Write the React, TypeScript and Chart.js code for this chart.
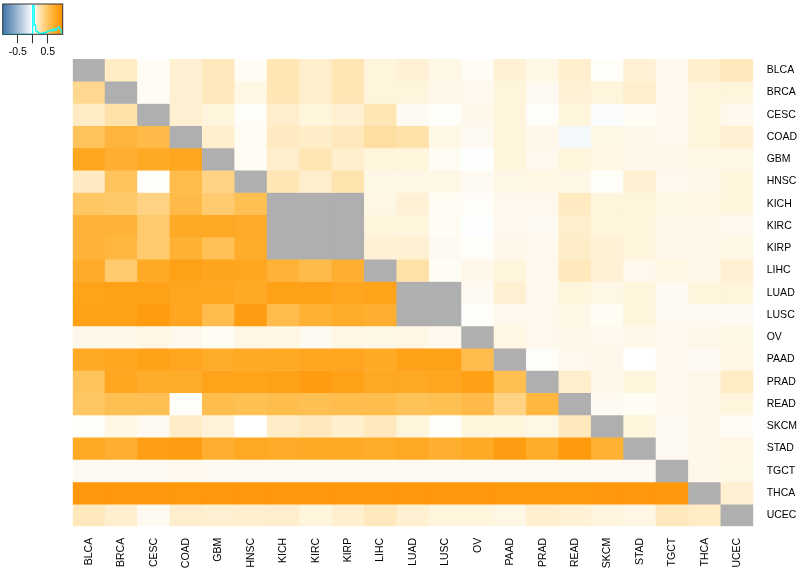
import React, { useEffect, useRef } from 'react';
import { Chart, registerables } from 'chart.js';

Chart.register(...registerables);

const N = null;

const rowLabels = ['BLCA', 'BRCA', 'CESC', 'COAD', 'GBM', 'HNSC', 'KICH', 'KIRC', 'KIRP', 'LIHC', 'LUAD', 'LUSC', 'OV', 'PAAD', 'PRAD', 'READ', 'SKCM', 'STAD', 'TGCT', 'THCA', 'UCEC'];
const colLabels = ['BLCA', 'BRCA', 'CESC', 'COAD', 'GBM', 'HNSC', 'KICH', 'KIRC', 'KIRP', 'LIHC', 'LUAD', 'LUSC', 'OV', 'PAAD', 'PRAD', 'READ', 'SKCM', 'STAD', 'TGCT', 'THCA', 'UCEC'];

const rowBLCA = [N, 0.17, 0.03, 0.13, 0.20, 0.03, 0.22, 0.15, 0.22, 0.10, 0.12, 0.07, 0.03, 0.12, 0.07, 0.14, 0.02, 0.12, 0.05, 0.14, 0.20];
const rowBRCA = [0.34, N, 0.03, 0.13, 0.20, 0.08, 0.22, 0.15, 0.22, 0.10, 0.10, 0.06, 0.05, 0.10, 0.04, 0.12, 0.10, 0.15, 0.05, 0.10, 0.10];
const rowCESC = [0.17, 0.25, N, 0.13, 0.10, 0.02, 0.15, 0.10, 0.13, 0.22, 0.04, 0.02, 0.06, 0.10, 0.02, 0.10, -0.03, 0.03, 0.05, 0.10, 0.05];
const rowCOAD = [0.52, 0.64, 0.60, N, 0.15, 0.03, 0.18, 0.16, 0.20, 0.28, 0.25, 0.07, 0.04, 0.10, 0.06, -0.05, 0.07, 0.06, 0.05, 0.10, 0.13];
const rowGBM = [0.77, 0.70, 0.75, 0.78, N, 0.03, 0.15, 0.22, 0.14, 0.10, 0.10, 0.03, -0.01, 0.10, 0.05, 0.10, 0.08, 0.06, 0.06, 0.07, 0.07];
const rowHNSC = [0.18, 0.52, 0.02, 0.58, 0.38, N, 0.22, 0.15, 0.24, 0.07, 0.07, 0.07, 0.04, 0.07, 0.08, 0.07, 0.02, 0.13, 0.05, 0.06, 0.10];
const rowKICH = [0.50, 0.47, 0.38, 0.60, 0.45, 0.55, N, N, N, 0.08, 0.12, 0.03, 0.02, 0.05, 0.05, 0.18, 0.10, 0.10, 0.07, 0.08, 0.10];
const rowKIRC = [0.66, 0.66, 0.46, 0.74, 0.76, 0.73, N, N, N, 0.10, 0.10, 0.03, -0.01, 0.05, 0.04, 0.15, 0.10, 0.10, 0.06, 0.06, 0.05];
const rowKIRP = [0.66, 0.63, 0.45, 0.68, 0.54, 0.72, N, N, N, 0.12, 0.13, 0.04, 0.02, 0.06, 0.05, 0.16, 0.12, 0.10, 0.06, 0.06, 0.07];
const rowLIHC = [0.73, 0.45, 0.74, 0.82, 0.79, 0.77, 0.67, 0.59, 0.70, N, 0.26, 0.03, 0.06, 0.10, 0.05, 0.20, 0.12, 0.05, 0.08, 0.06, 0.13];
const rowLUAD = [0.80, 0.82, 0.82, 0.77, 0.77, 0.75, 0.82, 0.82, 0.78, 0.80, N, N, 0.04, 0.13, 0.05, 0.10, 0.07, 0.10, 0.04, 0.10, 0.10];
const rowLUSC = [0.82, 0.82, 0.87, 0.78, 0.58, 0.85, 0.58, 0.68, 0.72, 0.70, N, N, 0.01, 0.05, 0.05, 0.07, 0.03, 0.10, 0.04, 0.04, 0.04];
const rowOV = [0.06, 0.06, 0.08, 0.05, 0.03, 0.08, 0.08, 0.04, 0.08, 0.07, 0.08, 0.05, N, 0.08, 0.05, 0.06, 0.05, 0.06, 0.05, 0.06, 0.07];
const rowPAAD = [0.75, 0.77, 0.82, 0.78, 0.72, 0.74, 0.76, 0.78, 0.78, 0.74, 0.82, 0.82, 0.58, N, 0.02, 0.05, 0.06, 0.00, 0.05, 0.04, 0.08];
const rowPRAD = [0.52, 0.78, 0.72, 0.72, 0.80, 0.80, 0.82, 0.86, 0.82, 0.76, 0.76, 0.78, 0.83, 0.56, N, 0.15, 0.06, 0.10, 0.05, 0.06, 0.17];
const rowREAD = [0.50, 0.55, 0.55, 0.02, 0.57, 0.55, 0.57, 0.56, 0.57, 0.57, 0.53, 0.55, 0.60, 0.38, 0.63, N, 0.04, 0.03, 0.05, 0.06, 0.10];
const rowSKCM = [0.01, 0.08, 0.04, 0.16, 0.11, 0.00, 0.16, 0.20, 0.14, 0.20, 0.10, 0.02, 0.10, 0.10, 0.07, 0.20, N, 0.10, 0.04, 0.06, 0.03];
const rowSTAD = [0.75, 0.70, 0.84, 0.85, 0.70, 0.76, 0.73, 0.74, 0.74, 0.72, 0.76, 0.70, 0.74, 0.85, 0.72, 0.88, 0.68, N, 0.04, 0.06, 0.08];
const rowTGCT = [0.04, 0.04, 0.04, 0.05, 0.04, 0.04, 0.04, 0.04, 0.04, 0.04, 0.04, 0.04, 0.04, 0.04, 0.04, 0.04, 0.04, 0.04, N, 0.06, 0.07];
const rowTHCA = [0.90, 0.90, 0.90, 0.89, 0.90, 0.90, 0.90, 0.90, 0.90, 0.90, 0.90, 0.90, 0.90, 0.89, 0.89, 0.89, 0.90, 0.90, 0.90, N, 0.13];
const rowUCEC = [0.20, 0.14, 0.04, 0.15, 0.13, 0.14, 0.15, 0.10, 0.14, 0.20, 0.13, 0.10, 0.10, 0.07, 0.14, 0.12, 0.09, 0.08, 0.20, 0.17, N];

const matrixRows = [rowBLCA, rowBRCA, rowCESC, rowCOAD, rowGBM, rowHNSC, rowKICH, rowKIRC, rowKIRP, rowLIHC, rowLUAD, rowLUSC, rowOV, rowPAAD, rowPRAD, rowREAD, rowSKCM, rowSTAD, rowTGCT, rowTHCA, rowUCEC];

// colour key
const keyTicks = [-0.5, 0, 0.5];
const keyTickLabels = ['-0.5', '', '0.5'];
const keyHistX = [-1, -0.05, 0, 0.05, 0.1, 0.15, 0.2, 0.25, 0.3, 0.35, 0.4, 0.45, 0.5, 0.55, 0.6, 0.65, 0.7, 0.75, 0.8, 0.85, 0.9, 0.95, 1];
const keyHistY = [0, 0, 0.95, 0.3, 0.1, 0.07, 0.04, 0.03, 0.03, 0.06, 0.04, 0.08, 0.1, 0.12, 0.15, 0.11, 0.18, 0.14, 0.2, 0.25, 0.15, 0.05, 0.05];

const FONT = '"Liberation Sans", Arial, Helvetica, sans-serif';
const NA_COLOR = '#AFAFAF';

function cellColor(v: number): string {
  const t = Math.max(-1, Math.min(1, v));
  if (t >= 0) {
    const r = 255;
    const g = Math.round(255 - 115 * t);
    const b = Math.round(255 * Math.pow(1 - t, 1.4));
    return `rgb(${r},${g},${b})`;
  }
  const a = -t;
  const r = Math.round(255 - (255 - 63) * a);
  const g = Math.round(255 - (255 - 116) * a);
  const b = Math.round(255 - (255 - 169) * a);
  return `rgb(${r},${g},${b})`;
}

const keyGradientPlugin = {
  id: 'keyGradient',
  beforeDatasetsDraw(chart: any) {
    const { ctx, chartArea: a } = chart;
    const xs = chart.scales.x;
    const x0 = xs.getPixelForValue(-1);
    const x1 = xs.getPixelForValue(1);
    const grad = ctx.createLinearGradient(x0, 0, x1, 0);
    for (let i = 0; i <= 20; i++) {
      const v = -1 + i * 0.1;
      grad.addColorStop(i / 20, cellColor(v));
    }
    ctx.save();
    ctx.fillStyle = grad;
    ctx.fillRect(a.left, a.top, a.right - a.left, a.bottom - a.top);
    ctx.restore();
  },
  afterDatasetsDraw(chart: any) {
    const { ctx, chartArea: a } = chart;
    ctx.save();
    ctx.strokeStyle = '#333333';
    ctx.lineWidth = 1;
    ctx.strokeRect(a.left, a.top, a.right - a.left, a.bottom - a.top);
    ctx.restore();
  },
};

export default function App() {
  const mainRef = useRef<HTMLCanvasElement>(null);
  const keyRef = useRef<HTMLCanvasElement>(null);

  useEffect(() => {
    if (!mainRef.current || !keyRef.current) return;

    const datasets = matrixRows.map((row, r) => ({
      label: rowLabels[r],
      data: row.map(() => [r, r + 1]),
      backgroundColor: row.map((v) => (v === null ? NA_COLOR : cellColor(v as number))),
      borderWidth: 0,
      barPercentage: 1,
      categoryPercentage: 1,
      grouped: false,
    }));

    const main = new Chart(mainRef.current, {
      type: 'bar',
      data: { labels: colLabels, datasets: datasets as any },
      options: {
        animation: false,
        responsive: false,
        events: [],
        plugins: { legend: { display: false }, tooltip: { enabled: false } },
        layout: { padding: { left: 72.7, top: 59, right: 0, bottom: 0 } },
        scales: {
          x: {
            position: 'bottom',
            grid: { display: false, drawTicks: false },
            border: { display: false },
            ticks: {
              autoSkip: false,
              minRotation: 90,
              maxRotation: 90,
              padding: 11.5,
              color: '#000',
              font: { family: FONT, size: 10.5, lineHeight: 1.6 },
            },
            afterFit: (s: any) => {
              s.height = 46.7;
            },
          },
          y: {
            type: 'linear',
            position: 'right',
            reverse: true,
            min: 0,
            max: 21,
            grid: { display: false, drawTicks: false },
            border: { display: false },
            afterBuildTicks: (s: any) => {
              s.ticks = rowLabels.map((_, i) => ({ value: i + 0.5 }));
            },
            ticks: {
              autoSkip: false,
              padding: 13.4,
              color: '#000',
              font: { family: FONT, size: 10.5 },
              callback: (v: any) => rowLabels[Math.floor(Number(v))] ?? '',
            },
            afterFit: (s: any) => {
              s.width = 46.7;
            },
          },
        },
      } as any,
    });

    const key = new Chart(keyRef.current, {
      type: 'line',
      data: {
        datasets: [
          {
            data: keyHistX.map((x, i) => ({ x, y: keyHistY[i] })),
            borderColor: '#00FFFF',
            borderWidth: 1.2,
            pointRadius: 0,
            stepped: true,
            fill: false,
            clip: 3,
          } as any,
        ],
      },
      options: {
        animation: false,
        responsive: false,
        events: [],
        plugins: { legend: { display: false }, tooltip: { enabled: false } },
        layout: { padding: { left: 2.7, top: 4, right: 7.3, bottom: 0 } },
        scales: {
          x: {
            type: 'linear',
            min: -1,
            max: 1,
            grid: { drawOnChartArea: false, drawTicks: true, tickLength: 9, color: '#333', lineWidth: 1 },
            border: { display: false },
            afterBuildTicks: (s: any) => {
              s.ticks = keyTicks.map((v) => ({ value: v }));
            },
            ticks: {
              autoSkip: false,
              maxRotation: 0,
              padding: 3,
              color: '#000',
              font: { family: FONT, size: 10.5 },
              callback: (v: any) => {
                const i = keyTicks.indexOf(Number(v));
                return i >= 0 ? keyTickLabels[i] : '';
              },
            },
            afterFit: (s: any) => {
              s.height = 27.7;
            },
          },
          y: { display: false, min: 0, max: 1 },
        },
      } as any,
      plugins: [keyGradientPlugin],
    });

    return () => {
      main.destroy();
      key.destroy();
    };
  }, []);

  return (
    <div style={{ position: 'fixed', left: 0, top: 0, width: 800, height: 573, background: '#fff' }}>
      <canvas ref={mainRef} width={800} height={573} style={{ position: 'absolute', left: 0, top: 0, width: 800, height: 573 }} />
      <canvas ref={keyRef} width={70} height={62} style={{ position: 'absolute', left: 0, top: 0, width: 70, height: 62 }} />
    </div>
  );
}
